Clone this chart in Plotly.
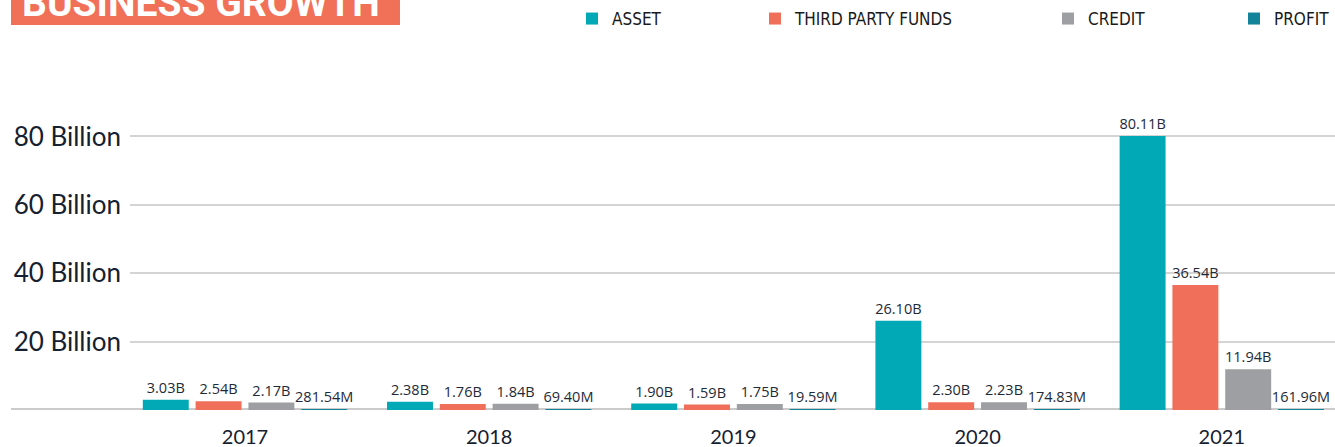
import plotly.graph_objects as go

# values in billions
years = ['2017', '2018', '2019', '2020', '2021']
asset = [3.03, 2.38, 1.90, 26.10, 80.11]
third_party_funds = [2.54, 1.76, 1.59, 2.30, 36.54]
credit = [2.17, 1.84, 1.75, 2.23, 11.94]
profit = [0.28154, 0.06940, 0.01959, 0.17483, 0.16196]

series_names = ['ASSET', 'THIRD PARTY FUNDS', 'CREDIT', 'PROFIT']
series_values = [asset, third_party_funds, credit, profit]
colors = ['#00a9b5', '#f06f5a', '#9d9fa2', '#13839a']

y_ticks = [20, 40, 60, 80]
y_ticktext = ['%d Billion' % v for v in y_ticks]


def fmt(v):
    # billions with B, below one billion in millions
    if v >= 1:
        return '%.2fB' % v
    return '%.2fM' % (v * 1000)


W, H = 1335, 447
ML, MR, MT, MB = 130, 0, 100, 37
pw = W - ML - MR
ph = H - MT - MB
step = 244.2  # px per year

fig = go.Figure()

legend_x = [586, 769, 1062]  # left edge of the first three legend squares, px
legend_keys = ['legend', 'legend2', 'legend3', 'legend4']

for i in range(4):
    fig.add_trace(go.Bar(
        x=years,
        y=series_values[i],
        name=series_names[i],
        marker=dict(color=colors[i], line=dict(width=0)),
        text=[fmt(v) for v in series_values[i]],
        textposition='outside',
        constraintext='none',
        cliponaxis=False,
        textfont=dict(family='Open Sans', size=14.5, color='#1e2a38'),
        legend=legend_keys[i],
    ))

layout_legends = {}
for i in range(4):
    leg = dict(
        y=(H - MB - 19) / ph,
        yanchor='middle',
        orientation='h',
        font=dict(family='DejaVu Sans Condensed', size=17, color='#1a1a1a'),
        bgcolor='rgba(0,0,0,0)',
    )
    if i < 3:
        leg['x'] = (legend_x[i] - 14 - ML) / pw
        leg['xanchor'] = 'left'
    else:
        # last one sits against the right edge so it does not push the margin
        leg['x'] = 1.0
        leg['xanchor'] = 'right'
    layout_legends[legend_keys[i]] = leg

x0 = -(245 - ML) / step
fig.update_layout(
    width=W, height=H,
    margin=dict(l=ML, r=MR, t=MT, b=MB),
    paper_bgcolor='white',
    plot_bgcolor='white',
    barmode='group',
    bargap=0.135,
    bargroupgap=0.13,
    showlegend=True,
    **layout_legends,
    xaxis=dict(
        type='category',
        range=[x0, x0 + pw / step],
        showgrid=False,
        showline=False,
        zeroline=False,
        ticks='',
        tickfont=dict(family='Lato', size=20, color='#152030'),
        ticklabelstandoff=13,
    ),
    yaxis=dict(
        range=[0, ph / 3.42],
        tickvals=y_ticks,
        ticktext=y_ticktext,
        showgrid=True,
        gridcolor='#d4d4d4',
        gridwidth=2,
        zeroline=False,
        showline=False,
        ticks='',
        tickfont=dict(family='Lato', size=26, color='#152030'),
        ticklabelstandoff=8,
    ),
)

# thick baseline running under the whole chart
fig.add_shape(type='line', xref='paper', yref='y',
              x0=(11 - ML) / pw, x1=1.0, y0=0, y1=0,
              line=dict(color='#cbcbcb', width=4), layer='below')

# title banner, cut off at the top edge
fig.add_shape(type='rect', xref='paper', yref='paper',
              x0=(11 - ML) / pw, x1=(400 - ML) / pw,
              y0=(H - MB - 25) / ph, y1=(H - MB + 20) / ph,
              fillcolor='#f07058', line=dict(width=0))
fig.add_annotation(text='<b>BUSINESS GROWTH</b>', xref='paper', yref='paper',
                   x=(20 - ML) / pw, xanchor='left',
                   y=(H - MB - 19) / ph, yanchor='bottom', yshift=-9,
                   showarrow=False,
                   font=dict(family='Roboto', size=39, color='white'))

fig.write_html('out.html', config={'displayModeBar': False},
               post_script="document.body.style.margin='0';")
